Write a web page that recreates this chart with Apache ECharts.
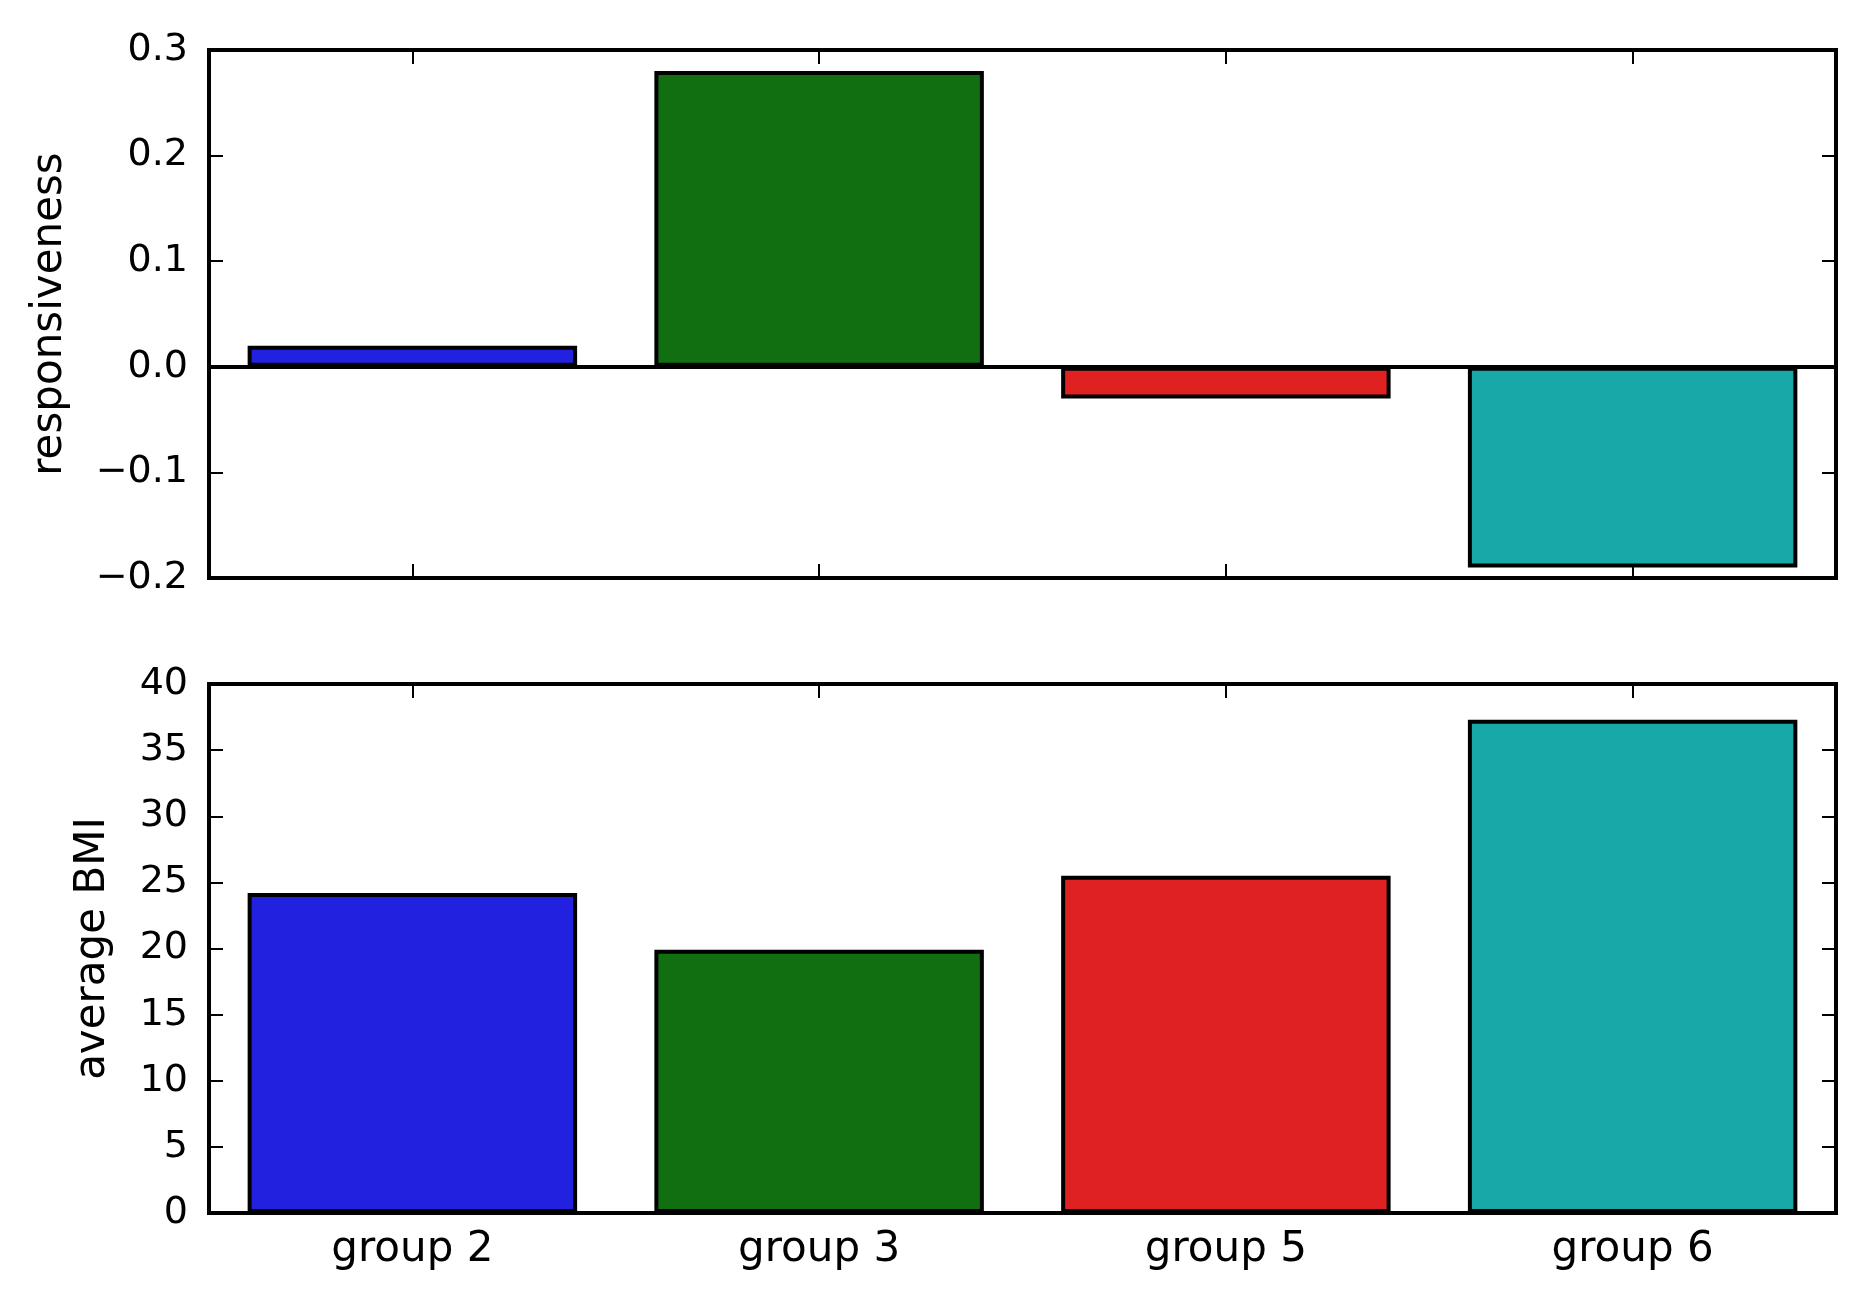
<!DOCTYPE html>
<html>
<head>
<meta charset="utf-8">
<title>responsiveness / average BMI</title>
<script src="https://cdn.jsdelivr.net/npm/echarts@6/dist/echarts.min.js"></script>
<style>
  html, body { margin: 0; padding: 0; background: #fff; }
  #chart { width: 1866px; height: 1299px; }
</style>
</head>
<body>
<div id="chart"></div>
<script>
/* ---------------- data ---------------- */
const groups = ['group 2', 'group 3', 'group 5', 'group 6'];
const responsiveness = [0.02, 0.28, -0.03, -0.19];
const averageBmi = [24.2, 19.9, 25.5, 37.3];
const barColors = ['#2121df', '#116f11', '#df2121', '#18a8a8'];

/* ---------------- style ---------------- */
const FONT = 'DejaVu Sans';
const TICK_FS = 38;   // y tick labels
const LABEL_FS = 42;  // x labels and axis names
const BLACK = '#000';
const EDGE = 4;

const chart = echarts.init(document.getElementById('chart'));

function bars(values) {
  return values.map((v, i) => ({
    value: v,
    itemStyle: { color: barColors[i], borderColor: BLACK, borderWidth: EDGE },
  }));
}

function fmtTick(v, digits) {
  const s = (Math.abs(v) < 1e-9 ? 0 : v).toFixed(digits);
  return s.replace('-', '\u2212');
}

const tick = { show: true, inside: true, length: 14, lineStyle: { color: BLACK, width: 2 } };

function xAxes(gridIndex, withLabels) {
  return [
    {
      type: 'category', gridIndex, data: groups, position: 'bottom',
      axisLine: { show: false, onZero: false },
      axisTick: { ...tick, alignWithLabel: true },
      axisLabel: { show: withLabels, color: BLACK, fontFamily: FONT, fontSize: LABEL_FS, margin: 16 },
      splitLine: { show: false },
    },
    {
      type: 'category', gridIndex, data: groups, position: 'top',
      axisLine: { show: false, onZero: false },
      axisTick: { ...tick, alignWithLabel: true },
      axisLabel: { show: false },
      splitLine: { show: false },
    },
  ];
}

function yAxes(gridIndex, min, max, interval, digits, name, nameGap) {
  const base = { type: 'value', gridIndex, min, max, interval, splitLine: { show: false } };
  return [
    {
      ...base, position: 'left',
      name, nameLocation: 'middle', nameGap, nameRotate: 90, nameMoveOverlap: false,
      nameTextStyle: { color: BLACK, fontFamily: FONT, fontSize: LABEL_FS },
      axisLine: { show: false, onZero: false },
      axisTick: tick,
      axisLabel: { color: BLACK, fontFamily: FONT, fontSize: TICK_FS, margin: 21,
        formatter: (v) => fmtTick(v, digits) },
    },
    {
      ...base, position: 'right',
      axisLine: { show: false, onZero: false },
      axisTick: tick,
      axisLabel: { show: false },
    },
  ];
}

const gridStyle = { show: true, borderColor: BLACK, borderWidth: EDGE, backgroundColor: 'transparent',
  containLabel: false, outerBoundsMode: 'none' };

chart.setOption({
  animation: false,
  backgroundColor: '#fff',
  textStyle: { fontFamily: FONT },
  grid: [
    { ...gridStyle, left: 209, top: 50, width: 1627, height: 528 },
    { ...gridStyle, left: 209, top: 684, width: 1627, height: 529 },
  ],
  xAxis: [...xAxes(0, false), ...xAxes(1, true)],
  yAxis: [
    ...yAxes(0, -0.2, 0.3, 0.1, 1, 'responsiveness', 138),
    ...yAxes(1, 0, 40, 5, 0, 'average BMI', 95),
  ],
  series: [
    {
      type: 'bar', xAxisIndex: 0, yAxisIndex: 0, barWidth: '81%',
      data: bars(responsiveness),
      markLine: {
        silent: true, symbol: 'none', label: { show: false },
        lineStyle: { color: BLACK, width: EDGE, type: 'solid' },
        data: [{ yAxis: 0 }],
      },
    },
    {
      type: 'bar', xAxisIndex: 2, yAxisIndex: 2, barWidth: '81%',
      data: bars(averageBmi),
    },
  ],
});
</script>
</body>
</html>
